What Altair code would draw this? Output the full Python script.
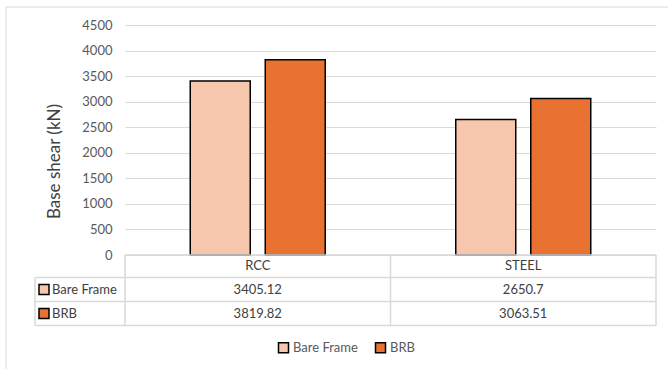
import altair as alt
import pandas as pd

categories = ["RCC", "STEEL"]
series = ["Bare Frame", "BRB"]
bare_frame = [3405.12, 2650.7]
brb = [3819.82, 3063.51]
bare_labels = ["3405.12", "2650.7"]
brb_labels = ["3819.82", "3063.51"]
y_ticks = [0, 500, 1000, 1500, 2000, 2500, 3000, 3500, 4000, 4500]
colors = ["#F6C6AD", "#E97132"]

FONT = "Lato"
GRID = "#d9d9d9"

rows = []
for i, c in enumerate(categories):
    rows.append({"category": c, "series": series[0], "value": bare_frame[i], "label": bare_labels[i]})
    rows.append({"category": c, "series": series[1], "value": brb[i], "label": brb_labels[i]})
df = pd.DataFrame(rows)
cat_df = pd.DataFrame({"category": categories})
one = pd.DataFrame({"k": [0]})

xscale = alt.Scale(domain=categories, paddingInner=0, paddingOuter=0)

bars = alt.Chart(df).mark_bar(stroke="black", strokeWidth=1.5).encode(
    x=alt.X("category:N", scale=xscale, axis=None, sort=categories),
    xOffset=alt.XOffset("series:N", sort=series,
                        scale=alt.Scale(domain=series, paddingInner=0.2, paddingOuter=0.87)),
    y=alt.Y("value:Q", scale=alt.Scale(domain=[0, 4500], nice=False),
            axis=alt.Axis(values=y_ticks, format="d", title="Base shear (kN)", domain=False, ticks=False,
                          grid=True, gridColor=GRID, gridWidth=1, labelPadding=13,
                          labelFont=FONT, labelFontSize=13, labelColor="#595959",
                          titleFont=FONT, titleFontSize=17, titleFontWeight="normal",
                          titleColor="#404040", titleAngle=-90, titleX=-71, titleY=136,
                          titleAlign="center", titleBaseline="middle")),
    color=alt.Color("series:N", sort=series, scale=alt.Scale(domain=series, range=colors),
                    legend=alt.Legend(title=None, orient="none", direction="horizontal",
                                      legendX=152, legendY=316, symbolType="square",
                                      symbolSize=100, symbolStrokeColor="black",
                                      symbolStrokeWidth=1.5, labelFont=FONT, labelFontSize=13,
                                      labelColor="#595959", labelOffset=3, columnPadding=14,
                                      padding=0)),
)

# outer border
border = alt.Chart(one).mark_rect(fill="white", fillOpacity=0, stroke=GRID, strokeWidth=1).encode(
    x=alt.value(-119), x2=alt.value(545), y=alt.value(-18), y2=alt.value(346)
)

# table lines
hlines_spec = [(0, 531, 230), (-90, 531, 252.5), (-90, 531, 276.5), (-90, 531, 300.5)]
vlines_spec = [(-90, 252.5, 300.5), (0, 230, 300.5), (265.5, 230, 300.5), (531, 230, 300.5)]
table_lines = []
for x1, x2, yy in hlines_spec:
    table_lines.append(alt.Chart(one).mark_rule(color=GRID, strokeWidth=1.5).encode(
        x=alt.value(x1), x2=alt.value(x2), y=alt.value(yy)))
for xx, y1, y2 in vlines_spec:
    table_lines.append(alt.Chart(one).mark_rule(color=GRID, strokeWidth=1.5).encode(
        x=alt.value(xx), y=alt.value(y1), y2=alt.value(y2)))

text_style = dict(font=FONT, fontSize=13, color="#404040", baseline="middle", align="center")

cat_text = alt.Chart(cat_df).mark_text(**text_style).encode(
    x=alt.X("category:N", scale=xscale, sort=categories), y=alt.value(241), text="category:N")
bare_text = alt.Chart(df[df.series == series[0]]).mark_text(**text_style).encode(
    x=alt.X("category:N", scale=xscale, sort=categories), y=alt.value(264.5), text="label:N")
brb_text = alt.Chart(df[df.series == series[1]]).mark_text(**text_style).encode(
    x=alt.X("category:N", scale=xscale, sort=categories), y=alt.value(288.5), text="label:N")

row_layers = []
for i, (name, yy) in enumerate([(series[0], 264.5), (series[1], 288.5)]):
    row_layers.append(alt.Chart(one).mark_rect(fill=colors[i], stroke="black", strokeWidth=1.5).encode(
        x=alt.value(-86), x2=alt.value(-76), y=alt.value(yy - 5), y2=alt.value(yy + 5)))
    row_layers.append(alt.Chart(pd.DataFrame({"name": [name]})).mark_text(
        font=FONT, fontSize=13, color="#404040", baseline="middle", align="left").encode(
        x=alt.value(-73), y=alt.value(yy), text="name:N"))

chart = alt.layer(border, bars, *table_lines, cat_text, bare_text, brb_text, *row_layers).properties(
    width=531, height=230,
    padding={"left": 125, "top": 25, "right": 12, "bottom": 114},
    autosize=alt.AutoSizeParams(type="none"),
    background="white",
).configure_view(stroke=None)

chart.save("out.html", embed_options={"renderer": "svg", "actions": False})
